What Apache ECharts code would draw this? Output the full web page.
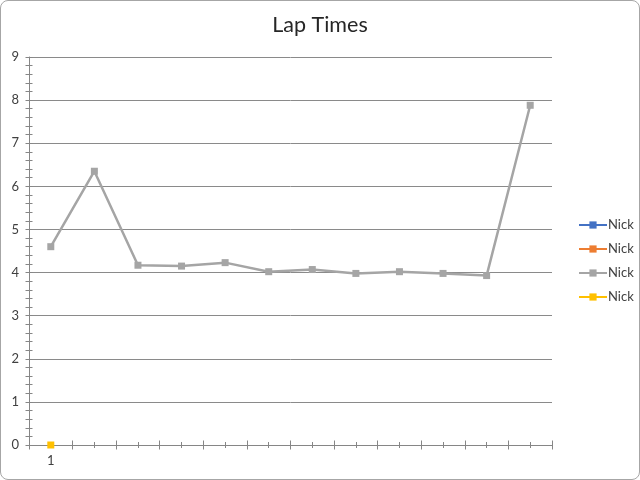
<!DOCTYPE html>
<html>
<head>
<meta charset="utf-8">
<script src="https://cdn.jsdelivr.net/npm/echarts@6/dist/echarts.min.js"></script>
<style>
html,body{margin:0;padding:0;background:#fff;}
#frame{position:absolute;left:0;top:0;width:638px;height:478px;border:1px solid #a6a6a6;border-radius:8px;overflow:hidden;background:#fff;}
#chart{width:638px;height:478px;}
</style>
</head>
<body>
<div id="frame"><div id="chart"></div></div>
<script>
var titleText = 'Lap Times';
var categories = ['1','2','3','4','5','6','7','8','9','10','11','12'];
var seriesNames = ['Nick','Nick','Nick','Nick'];
var seriesColors = ['#4472C4','#ED7D31','#A5A5A5','#FFC000'];
var series1 = [null,null,null,null,null,null,null,null,null,null,null,null];
var series2 = [null,null,null,null,null,null,null,null,null,null,null,null];
var series3 = [4.60,6.35,4.17,4.15,4.23,4.02,4.07,3.98,4.02,3.98,3.93,7.88];
var series4 = [0,null,null,null,null,null,null,null,null,null,null,null];
var yMin = 0, yMax = 9, yInterval = 1;

var font = 'Lato, "Open Sans", "Liberation Sans", sans-serif';
var axisColor = '#868686';
var textColor = '#404040';
var chart = echarts.init(document.getElementById('chart'));

function xAx(opts){
  var base = {
    type:'category', data:categories, position:'bottom', boundaryGap:true,
    axisLine:{show:false}, axisLabel:{show:false}, splitLine:{show:false},
    axisTick:{show:true, lineStyle:{color:axisColor}}
  };
  for (var k in opts) {
    if (k==='axisTick') { for (var j in opts[k]) base.axisTick[j]=opts[k][j]; }
    else base[k]=opts[k];
  }
  return base;
}

var allData = [series1, series2, series3, series4];
var option = {
  animation:false,
  title:{text:titleText, left:'center', top:8, textStyle:{fontFamily:font, fontSize:21.5, fontWeight:'normal', color:'#262626'}},
  legend:{
    orient:'vertical', left:572, top:211, itemGap:8, itemWidth:28, itemHeight:9,
    textStyle:{fontFamily:font, fontSize:13, lineHeight:16, color:textColor, padding:[0,0,0,-4]},
    data:seriesNames.map(function(n,i){return {name:n+'\u200b'.repeat(i)};})
  },
  grid:{left:28, right:87, top:56, bottom:34},
  xAxis:[
    xAx({axisLine:{show:true, lineStyle:{color:axisColor}}, axisTick:{length:4.5, inside:false},
         axisLabel:{show:true, fontFamily:font, fontSize:13, color:textColor, margin:9,
                    interval:0, formatter:function(v,i){return i===0?v:'';}}}),
    xAx({axisTick:{length:4.5, inside:true}}),
    xAx({axisTick:{length:3, inside:false, alignWithLabel:true}}),
    xAx({axisTick:{length:3, inside:true, alignWithLabel:true}})
  ],
  yAxis:[
    {type:'value', min:yMin, max:yMax, interval:yInterval, position:'left',
     axisLine:{show:true, lineStyle:{color:axisColor}},
     axisTick:{show:true, length:3.5, inside:false, lineStyle:{color:axisColor}},
     minorTick:{show:true, splitNumber:5, length:3.5, lineStyle:{color:axisColor}},
     axisLabel:{fontFamily:font, fontSize:13, color:textColor, margin:10},
     splitLine:{show:true, lineStyle:{color:'#8a8a8a', width:1}}},
    {type:'value', min:yMin, max:yMax, interval:yInterval, position:'left',
     axisLine:{show:false}, axisLabel:{show:false}, splitLine:{show:false},
     axisTick:{show:true, length:3.5, inside:true, lineStyle:{color:axisColor}},
     minorTick:{show:true, splitNumber:5, length:3.5, lineStyle:{color:axisColor}}}
  ],
  series:allData.map(function(d,i){
    return {
      name:seriesNames[i]+'\u200b'.repeat(i), type:'line', xAxisIndex:0, yAxisIndex:0, data:d,
      symbol:'rect', symbolSize:7, showAllSymbol:true, connectNulls:false,
      itemStyle:{color:seriesColors[i]},
      lineStyle:{color:seriesColors[i], width:2.5}
    };
  })
};
chart.setOption(option);
</script>
</body>
</html>
